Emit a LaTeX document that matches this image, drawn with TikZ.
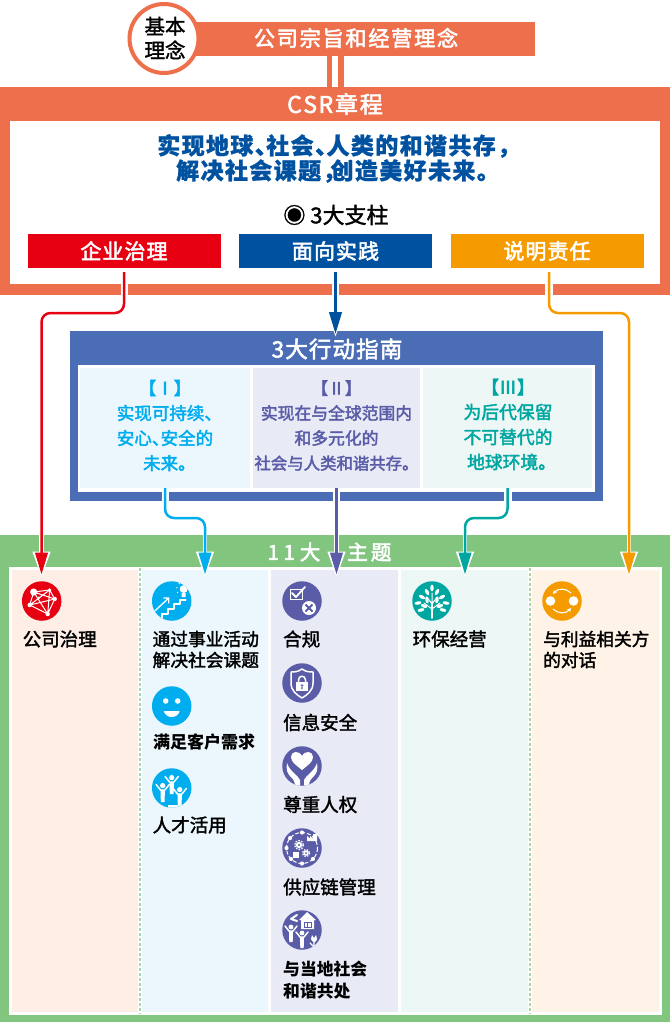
\documentclass[tikz,border=0pt]{standalone}
\usepackage{fontspec}
\usetikzlibrary{arrows.meta,calc}
\setmainfont{Noto Sans CJK SC}
\newfontfamily\medf{Noto Sans CJK SC}
\newfontfamily\medsp[LetterSpace=8]{Noto Sans CJK SC}
\newfontfamily\medwide[LetterSpace=5]{Noto Sans CJK SC}
\newfontfamily\boldf[LetterSpace=6]{Noto Sans CJK SC}
\definecolor{cOrange}{HTML}{EE6F4B}
\definecolor{cRed}{HTML}{E60012}
\definecolor{cNavy}{HTML}{00519F}
\definecolor{cAmber}{HTML}{F59B00}
\definecolor{cSlate}{HTML}{4A6DB5}
\definecolor{cSky}{HTML}{00ADEE}
\definecolor{cViolet}{HTML}{5A5CA8}
\definecolor{cTeal}{HTML}{00A7A0}
\definecolor{cGreen}{HTML}{82C57F}
\definecolor{cDash}{HTML}{A8D8A8}
\definecolor{fA}{HTML}{FEEEE5}
\definecolor{fB}{HTML}{EBF7FD}
\definecolor{fC}{HTML}{E8EAF6}
\definecolor{fD}{HTML}{EDF7F6}
\definecolor{fE}{HTML}{FEF3E6}
\tikzset{
  heavy/.style={execute at begin node={\special{pdf:code q 2 Tr #1 w}},execute at end node={\special{pdf:code Q}}},
  heavy/.default=0.35,
  blockbox/.style={rectangle,inner sep=0,outer sep=0,draw=none},
  pillar/.style={blockbox,minimum width=193pt,minimum height=34pt,text=white,font=\fontsize{21}{24}\medwide,heavy=0.55},
  cellbox/.style={blockbox,minimum height=120pt},
  celltext/.style={inner sep=0,align=center,heavy=0.4},
  colbox/.style={blockbox,minimum height=442pt},
  lab/.style={inner sep=0,anchor=west,align=left,font=\fontsize{18.5}{21}\medf,heavy},
  labtwo/.style={lab,font=\fontsize{17.7}{21}\medf},
  labb/.style={inner sep=0,anchor=west,align=left,font=\fontsize{#1}{22}\medf\bfseries},
  ico/.style={circle,fill=#1,minimum size=39.5pt,inner sep=0,outer sep=0},
  halo/.style={draw=white,line width=4.5pt,shorten >=-3pt,-{Triangle[width=17pt,length=26pt]}},
  conn/.style={line width=2.5pt,rounded corners=9pt},
  colTip/.style={-{Triangle[width=12.5pt,length=22pt]}},
  gl/.style={draw=white,line width=#1,line cap=round,line join=round},
  gl/.default=1.2pt
}
\newcommand\persona[3]{% x y scale: a person with raised arms
  \fill[white] (#1,#2-4*#3) circle ({2.4*#3});
  \draw[gl=1.5pt] (#1-6*#3,#2-5*#3) -- (#1-2*#3,#2) -- (#1+2*#3,#2) -- (#1+6*#3,#2-5*#3);
  \fill[white] (#1-2*#3,#2) -- (#1+2*#3,#2) -- (#1+1.7*#3,#2+11*#3) -- (#1-1.7*#3,#2+11*#3) -- cycle;
}
\begin{document}
\begin{tikzpicture}[x=1pt,y=-1pt,line join=miter]
\useasboundingbox (0,0) rectangle (670,1022);

% ---------- top
\node[blockbox,fill=cOrange,minimum width=339pt,minimum height=34pt] (bar) at (365.5,39) {};
\node[inner sep=0,text=white,font=\fontsize{21.2}{24}\medsp,heavy=0.55] (barT) at (356,38) {公司宗旨和经营理念};
\node[circle,draw=cOrange,fill=white,line width=4pt,minimum size=69pt,inner sep=0] (base) at (164,38.5) {};
\node[inner sep=0,align=center,font=\fontsize{20.5}{24}\medf,heavy] (baseT) at (165,38) {基本\\理念};

% ---------- CSR frame
\node[blockbox,fill=cOrange,minimum width=670pt,minimum height=208pt] (csr) at (335,191) {};
\draw[cOrange,line width=5.5pt,double=white,double distance=6pt] (csr.north |- bar.south) -- (csr.north);
\node[blockbox,fill=white,minimum width=650pt,minimum height=163pt] (csrIn) at (335,202.5) {};
\node[inner sep=0,text=white,font=\fontsize{23}{24}\medsp,heavy=0.55] (csrT) at (335,104) {C\kern1.5pt S\kern1.5pt R章程};
\node[inner sep=0,align=center,text=cNavy,font=\fontsize{23}{25}\boldf\bfseries,heavy=0.25] (mission) at (333,158.5)
  {实现地球、\kern-.5em社会、\kern-.5em人类的和谐共存，\kern-.5em\\\hbox{}\kern10pt 解决社会课题，\kern-.65em创造美好未来。};
\node[inner sep=0,font=\fontsize{22}{24}\medf,heavy] (three) at (336,215) {◉ 3大支柱};
\node[pillar,fill=cRed] (pA) at (124,251) {企业治理};
\node[pillar,fill=cNavy] (pB) at (335.5,251) {面向实践};
\node[pillar,fill=cAmber] (pC) at (547,251) {说明责任};
\fill[white] (120.7,284) rectangle (128.3,295);
\fill[white] (331.7,284) rectangle (339.3,295);
\fill[white] (545.2,284) rectangle (552.8,295);

% ---------- guidelines
\node[blockbox,fill=cSlate,minimum width=533pt,minimum height=170pt] (guide) at (336.5,416) {};
\node[blockbox,fill=white,minimum width=517pt,minimum height=127pt] (guideIn) at (336.5,428.5) {};
\node[inner sep=0,text=white,font=\fontsize{22.5}{24}\medwide,heavy=0.55] (guideT) at (337,349) {3大行动指南};
\node[cellbox,fill=fB,minimum width=170.5pt] (cA) at (165,428) {};
\node[cellbox,fill=fC,minimum width=167.5pt] (cB) at (336.5,428) {};
\node[cellbox,fill=fD,minimum width=169pt] (cC) at (507.5,428) {};
\node[celltext,text=cSky,font=\fontsize{17.5}{25}\medf] at (165,425.5) (cAT) {【Ⅰ】\\实现可持续、\kern-.5em\\安心、\kern-.5em安全的\\未来。\kern-.5em};
\node[celltext,text=cViolet,font=\fontsize{16.8}{25}\medf] at (336.5,425.5) (cBT) {【Ⅱ】\\实现在与全球范围内\\和多元化的\\{\fontsize{16.4}{25}\selectfont 社会与人类和谐共存。}};
\node[celltext,text=cTeal,font=\fontsize{17.8}{25}\medf] at (508,424.5) (cCT) {【Ⅲ】\\为后代保留\\不可替代的\\地球环境。\kern-.4em};
\fill[white] (161.5,492) rectangle (169.2,501);
\fill[white] (332.5,492) rectangle (340.2,501);
\fill[white] (504,492) rectangle (511.6,501);

% ---------- themes
\node[blockbox,fill=cGreen,minimum width=670pt,minimum height=487pt] (green) at (335,778.5) {};
\node[inner sep=0,text=white,font=\fontsize{20.5}{24}\medf,heavy=0.55] (greenT) at (329.5,552) {1\kern4.5pt 1\kern5pt 大\hspace{27pt}主\kern3pt 题};
\node[blockbox,fill=white,minimum width=653pt,minimum height=447.5pt] (panel) at (335,790.75) {};
\node[colbox,fill=fA,minimum width=126pt] (k1) at (75,791) {};
\node[colbox,fill=fB,minimum width=126pt] (k2) at (205,791) {};
\node[colbox,fill=fC,minimum width=127pt] (k3) at (334.5,791) {};
\node[colbox,fill=fD,minimum width=127pt] (k4) at (464.5,791) {};
\node[colbox,fill=fE,minimum width=127pt] (k5) at (595.5,791) {};
\draw[cDash,line width=1.4pt,dash pattern=on 3pt off 2pt] (140,568) -- (140,1014);
\draw[cDash,line width=1.4pt,dash pattern=on 3pt off 2pt] (530,568) -- (530,1014);

% labels
\node[lab] (l1) at (22.5,639) {公司治理};
\node[labtwo] (l2) at (152.5,649.5) {通过事业活动\\解决社会课题};
\node[labb=17] (l3) at (153,742) {满足客户需求};
\node[lab] (l4) at (152.5,825) {人才活用};
\node[lab] (l5) at (283,639) {合规};
\node[lab] (l6) at (283,722.5) {信息安全};
\node[lab] (l7) at (283,804.5) {尊重人权};
\node[lab] (l8) at (283,887) {供应链管理};
\node[labb=16.8] (l9) at (283,980) {与当地社会\\和谐共处};
\node[lab] (l10) at (412.5,639) {环保经营};
\node[labtwo] (l11) at (543,649.5) {与利益相关方\\的对话};

% ---------- icons
\node[ico=cRed] (i1) at (41.7,601) {};
\begin{scope}[shift={(i1.center)}]
  \draw[gl=1pt] (-8,-9) -- (8,-11) -- (13,-2) -- (6,13) -- (-12,4) -- cycle
    (-8,-9) -- (13,-2) (-8,-9) -- (6,13) (8,-11) -- (-12,4) (8,-11) -- (6,13) (13,-2) -- (-12,4) (-3,-3) -- (8,-11);
  \fill[white] (-8,-9) circle (3.6) (8,-11) circle (1.8) (13,-2) circle (2.2) (6,13) circle (2.2) (-12,4) circle (2.2) (-3,-3) circle (1.5);
\end{scope}

\node[ico=cSky] (i2) at (171.7,601) {};
\begin{scope}[shift={(i2.center)}]
  \clip (0,0) circle (19.7);
  \draw[gl=1.3pt] (-18,11) -- (-3,-3) (-8,-3) -- (-3,-3) -- (-3,2);
  \draw[gl=2pt] (-10,19) -- (-10,13) -- (-4,13) -- (-4,8) -- (2,8) -- (2,3) -- (8,3) -- (8,-1) -- (14,-1);
  \fill[white] (12,-12) circle (4) (10,-8) rectangle (14,-4);
  \foreach \a in {-170,-130,-90,-50,-10,30,150} \fill[white] ($(12,-12)+(\a:7)$) circle (0.7);
\end{scope}

\node[ico=cSky] (i3) at (171.7,706) {};
\begin{scope}[shift={(i3.center)}]
  \fill[white] (-6,-5) circle (2.8) (6,-5) circle (2.8);
  \fill[white] (-8,5) -- (8,5) .. controls (6,13) and (-6,13) .. (-8,5) -- cycle;
\end{scope}

\node[ico=cSky] (i4) at (171.7,788) {};
\begin{scope}[shift={(i4.center)}]
  \clip (0,0) circle (19.7);
  \persona{0}{-6}{1.1}
  \persona{-9}{2}{1.1}
  \persona{8}{6}{1.1}
  \fill[white] (-4,17) rectangle (6,20);
\end{scope}

\node[ico=cViolet] (i5) at (302,601) {};
\begin{scope}[shift={(i5.center)}]
  \draw[white,line width=1pt] (-12,-12) rectangle (0,-2);
  \draw[gl=1.8pt] (-10,-8) -- (-6,-4) -- (3,-14);
  \fill[white] (7,7) circle (7);
  \draw[cViolet,line width=2pt] (3.5,3.5) -- (10.5,10.5) (3.5,10.5) -- (10.5,3.5);
\end{scope}

\node[ico=cViolet] (i6) at (302,683) {};
\begin{scope}[shift={(i6.center)}]
  \draw[gl=1.5pt] (0,-14) .. controls (4,-11) and (8,-11) .. (11,-11) -- (11,0) .. controls (11,8) and (5,12) .. (0,15)
     .. controls (-5,12) and (-11,8) .. (-11,0) -- (-11,-11) .. controls (-8,-11) and (-4,-11) .. (0,-14) -- cycle;
  \draw[white,line width=1.5pt] (-3.5,-1) -- (-3.5,-3) .. controls (-3.5,-8) and (3.5,-8) .. (3.5,-3) -- (3.5,-1);
  \fill[white] (-6,-1) rectangle (6,8);
  \fill[cViolet] (0,2.5) circle (1.5) (-.7,2.5) rectangle (.7,6);
\end{scope}

\node[ico=cViolet] (i7) at (302,766) {};
\begin{scope}[shift={(i7.center)}]
  \clip (0,0) circle (19.7);
  \fill[white] (0,4) .. controls (-6,-1) and (-11,-4) .. (-11,-9) .. controls (-11,-15) and (-3,-16) .. (0,-10)
     .. controls (3,-16) and (11,-15) .. (11,-9) .. controls (11,-4) and (6,-1) .. (0,4) -- cycle;
  \fill[white] (-2,20) -- (-2,14) .. controls (-4,9) and (-12,6) .. (-15,-3) .. controls (-16,3) and (-15,7) .. (-12,10) .. controls (-9,13) and (-7,15) .. (-7,20) -- cycle;
  \fill[white] (2,20) -- (2,14) .. controls (4,9) and (12,6) .. (15,-3) .. controls (16,3) and (15,7) .. (12,10) .. controls (9,13) and (7,15) .. (7,20) -- cycle;
\end{scope}

\node[ico=cViolet] (i8) at (302,848) {};
\begin{scope}[shift={(i8.center)}]
  \draw[white,line width=1pt,dash pattern=on 4pt off 2pt] (0,0) circle (15.5);
  \foreach \a in {-90,-140,180,135,90,45} \fill[white] (\a:15.5) circle (2.1);
  \fill[white] (-3,-3) circle (3.2) (4,5) circle (2.6);
  \draw[white,line width=1.3pt,dash pattern=on 1.5pt off 1.3pt] (-3,-3) circle (4.4) (4,5) circle (3.5);
  \fill[cViolet] (-3,-3) circle (1.1) (4,5) circle (1);
  \fill[white] (5,-7) -- (5,-12) -- (8,-9.5) -- (8,-12) -- (11,-9.5) -- (11,-14) -- (15,-14) -- (15,-7) -- cycle;
  \fill[white] (-9,4) rectangle (-3,10);
\end{scope}

\node[ico=cViolet] (i9) at (302,930) {};
\begin{scope}[shift={(i9.center)}]
  \clip (0,0) circle (19.7);
  \fill[white] (5,-18) -- (14,-10) -- (12,-10) -- (12,-1) -- (-1,-1) -- (-1,-10) -- (-3,-10) -- cycle;
  \draw[cViolet,line width=1pt] (2,-8) rectangle (9,-3) (5.5,-8) -- (5.5,-3);
  \draw[gl=2pt] (-5,-15) -- (-11,-11) -- (-5,-9);
  \persona{-11}{1}{1}
  \persona{0}{7}{1}
  \fill[white] (10,5) -- (12,8) -- (14,5) -- (15,9) .. controls (15,13) and (10,13) .. (9,9) -- cycle;
  \draw[gl=1.3pt] (12,11) -- (12,18) (12,17) -- (8,13) (12,17) -- (16,13);
\end{scope}

\node[ico=cTeal] (i10) at (432,601) {};
\begin{scope}[shift={(i10.center)}]
  \draw[gl=1.8pt] (0,17) -- (0,3);
  \draw[gl=1pt] (0,8) -- (-8,2) (0,8) -- (8,2) (0,3) -- (-5,-4) (0,3) -- (5,-4) (0,3) -- (0,-8);
  \foreach \x/\y/\r in {0/-13/90,-5/-9/120,5/-9/60,-10/-4/150,10/-4/30,-14/2/10,14/2/-10,-8/5/-20,8/5/20,-5/-1/100,5/-1/80,-11/9/15,11/9/-15}
    \fill[white,rotate around={\r:(\x,\y)}] (\x,\y) ellipse (3.4 and 1.7);
\end{scope}

\node[ico=cAmber] (i11) at (562,601) {};
\begin{scope}[shift={(i11.center)}]
  \fill[white] (-11.5,0) circle (4.8) (11.5,0) circle (4.8);
  \draw[white,line width=1.1pt,-{Stealth[length=4pt,width=4pt]}] (9,-8) .. controls (4,-13) and (-4,-13) .. (-9,-7);
  \draw[white,line width=1.1pt,-{Stealth[length=4pt,width=4pt]}] (-9,8) .. controls (-4,13) and (4,13) .. (9,7);
\end{scope}

% ---------- connectors
\coordinate (t1) at (41.5,574.5);
\coordinate (t2) at (205,574.5);
\coordinate (t3) at (336.5,574.5);
\coordinate (t4) at (465,574.5);
\coordinate (t5) at (629,574.5);
\coordinate (tB) at (335.5,334);

\draw[conn,halo] ([yshift=40pt]t1) -- (t1);
\draw[conn,halo] ([yshift=40pt]t2) -- (t2);
\draw[conn,halo] ([yshift=40pt]t3) -- (t3);
\draw[conn,halo] ([yshift=40pt]t4) -- (t4);
\draw[conn,halo] ([yshift=40pt]t5) -- (t5);
\draw[conn,halo] ([yshift=22pt]tB) -- (tB);

\draw[conn,cRed,colTip,shorten <=4pt] (pA.south) -- ++(0,45) -| (t1);
\draw[conn,cAmber,colTip,shorten <=4pt] ([xshift=2pt]pC.south) -- ++(0,45) -| (t5);
\draw[conn,cNavy,colTip,shorten <=4pt] (pB.south) -- (tB);
\draw[conn,cSky,colTip] (cA.south) -- ++(0,30) -| (t2);
\draw[conn,cViolet,colTip] (cB.south) -- (t3);
\draw[conn,cTeal,colTip] (cC.south) -- ++(0,30) -| (t4);
\end{tikzpicture}
\end{document}
